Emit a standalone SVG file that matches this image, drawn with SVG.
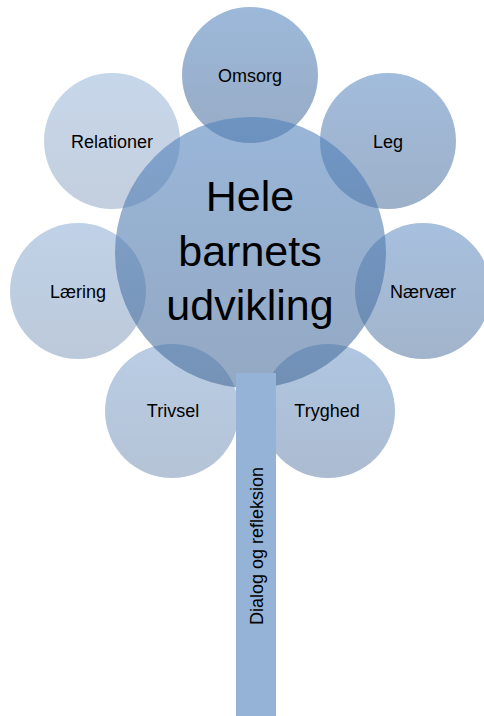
<svg xmlns="http://www.w3.org/2000/svg" width="484" height="716" viewBox="0 0 484 716">
<defs>
<linearGradient id="pg" x1="0" y1="0" x2="0" y2="1">
<stop offset="0" stop-color="#4F81BD"/>
<stop offset="1" stop-color="#466A98"/>
</linearGradient>
</defs>
<style>
.c{fill:url(#pg);}
.t{font-family:"Liberation Sans",Arial,sans-serif;font-size:18px;fill:#000;text-anchor:middle;}
.big{font-family:"Liberation Sans",Arial,sans-serif;font-size:43px;fill:#000;text-anchor:middle;}
</style>
<rect width="484" height="716" fill="#fff"/>
<g id="petals">
<g id="omsorg"><circle class="c" cx="250" cy="75" r="68" fill-opacity="0.56"/></g>
<g id="leg"><circle class="c" cx="388" cy="141" r="68" fill-opacity="0.53"/></g>
<g id="naervaer"><circle class="c" cx="423" cy="291" r="68" fill-opacity="0.5"/></g>
<g id="tryghed"><circle class="c" cx="328" cy="411" r="67" fill-opacity="0.45"/></g>
<g id="trivsel"><circle class="c" cx="172" cy="411" r="67" fill-opacity="0.4"/></g>
<g id="laering"><circle class="c" cx="78" cy="291" r="68" fill-opacity="0.36"/></g>
<g id="relationer"><circle class="c" cx="112" cy="141" r="68" fill-opacity="0.32"/></g>
</g>
<g id="center"><circle class="c" cx="250.5" cy="252.5" r="135.5" fill-opacity="0.58"/></g>
<g id="connectors">
<rect id="stem" x="236" y="373" width="40" height="343" fill="#95B3D7"/>
</g>
<g id="labels">
<text class="t" x="250" y="82">Omsorg</text>
<text class="t" x="388" y="148">Leg</text>
<text class="t" x="112" y="148">Relationer</text>
<text class="t" x="78" y="298">Læring</text>
<text class="t" x="423" y="298">Nærvær</text>
<text class="t" x="173" y="417">Trivsel</text>
<text class="t" x="327" y="417">Tryghed</text>
<text class="big" x="250" y="211">Hele</text>
<text class="big" x="250" y="266">barnets</text>
<text class="big" x="250" y="320">udvikling</text>
<text class="t" transform="translate(263,546) rotate(-90)" x="0" y="0">Dialog og refleksion</text>
</g>
</svg>
